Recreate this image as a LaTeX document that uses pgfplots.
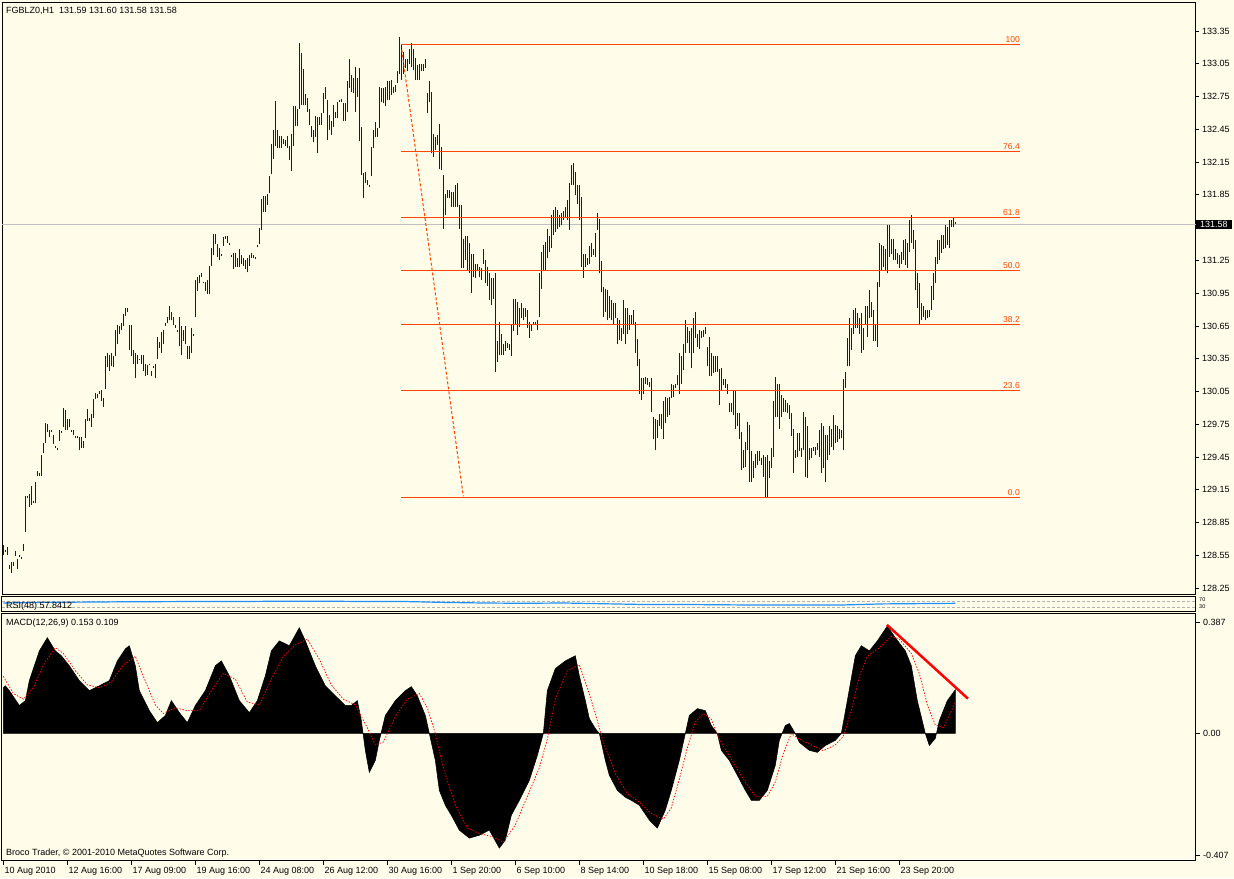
\documentclass[border=0pt]{standalone}
\usepackage{pgfplots}
\pgfplotsset{compat=1.18}
\usepackage{pgfplotstable}
\usepackage{fontspec}
\setmainfont{Liberation Sans}
\definecolor{bg}{RGB}{255,252,234}
\definecolor{barcol}{RGB}{22,32,32}
\definecolor{fib}{RGB}{255,69,0}
\definecolor{rsiblue}{RGB}{30,144,255}
\definecolor{lastline}{RGB}{192,192,192}

\pgfplotstableread{
i lo hi
0 128.55 128.64
1 128.58 128.60
2 128.55 128.63
3 128.42 128.46
4 128.39 128.49
5 128.45 128.49
6 128.54 128.59
7 128.42 128.52
8 128.53 128.55
9 128.52 128.53
10 128.59 128.65
11 128.76 129.09
12 129.07 129.09
13 128.99 129.11
14 129.01 129.18
15 129.03 129.05
16 129.03 129.22
17 129.28 129.32
18 129.28 129.30
19 129.28 129.47
20 129.49 129.58
21 129.58 129.76
22 129.68 129.75
23 129.63 129.70
24 129.68 129.70
25 129.57 129.65
26 129.53 129.55
27 129.51 129.53
28 129.60 129.70
29 129.67 129.69
30 129.72 129.90
31 129.70 129.88
32 129.70 129.80
33 129.72 129.80
34 129.68 129.70
35 129.65 129.70
36 129.62 129.64
37 129.62 129.64
38 129.51 129.63
39 129.53 129.63
40 129.53 129.60
41 129.62 129.80
42 129.78 129.89
43 129.78 129.81
44 129.72 129.84
45 129.81 129.98
46 129.98 130.04
47 129.99 130.03
48 130.03 130.05
49 129.96 130.06
50 129.91 129.99
51 130.07 130.37
52 130.27 130.40
53 130.24 130.38
54 130.28 130.40
55 130.27 130.37
56 130.37 130.61
57 130.48 130.66
58 130.58 130.65
59 130.61 130.68
60 130.65 130.76
61 130.74 130.81
62 130.78 130.81
63 130.43 130.66
64 130.37 130.66
65 130.30 130.43
66 130.17 130.40
67 130.30 130.38
68 130.34 130.35
69 130.30 130.38
70 130.24 130.38
71 130.19 130.30
72 130.20 130.29
73 130.29 130.30
74 130.19 130.24
75 130.26 130.28
76 130.17 130.30
77 130.35 130.55
78 130.45 130.50
79 130.40 130.59
80 130.48 130.61
81 130.65 130.68
82 130.68 130.73
83 130.70 130.83
84 130.70 130.78
85 130.66 130.73
86 130.63 130.66
87 130.59 130.61
88 130.47 130.73
89 130.38 130.65
90 130.51 130.61
91 130.48 130.65
92 130.35 130.47
93 130.35 130.47
94 130.40 130.63
95 130.56 130.58
96 130.73 131.07
97 130.97 131.10
98 131.04 131.12
99 131.10 131.13
100 131.04 131.05
101 130.97 131.05
102 130.94 131.07
103 130.94 131.20
104 131.20 131.36
105 131.30 131.49
106 131.40 131.49
107 131.28 131.40
108 131.25 131.36
109 131.29 131.31
110 131.38 131.46
111 131.45 131.47
112 131.41 131.47
113 131.39 131.41
114 131.28 131.30
115 131.17 131.32
116 131.19 131.32
117 131.19 131.27
118 131.19 131.35
119 131.22 131.30
120 131.20 131.27
121 131.17 131.25
122 131.14 131.27
123 131.20 131.30
124 131.27 131.32
125 131.27 131.30
126 131.26 131.28
127 131.37 131.39
128 131.40 131.55
129 131.53 131.81
130 131.69 131.84
131 131.69 131.84
132 131.76 131.86
133 131.87 132.02
134 132.04 132.32
135 132.18 132.44
136 132.30 132.71
137 132.28 132.44
138 132.28 132.39
139 132.28 132.39
140 132.32 132.36
141 132.30 132.35
142 132.28 132.39
143 132.17 132.30
144 132.07 132.41
145 132.30 132.66
146 132.48 132.66
147 132.48 132.64
148 132.64 133.24
149 132.67 133.15
150 132.67 133.00
151 132.67 132.77
152 132.61 132.74
153 132.49 132.64
154 132.38 132.48
155 132.33 132.44
156 132.38 132.57
157 132.23 132.56
158 132.49 132.56
159 132.49 132.60
160 132.60 132.78
161 132.73 132.84
162 132.35 132.72
163 132.44 132.58
164 132.40 132.53
165 132.47 132.67
166 132.55 132.61
167 132.55 132.70
168 132.70 132.72
169 132.70 132.73
170 132.53 132.69
171 132.53 132.69
172 132.61 132.89
173 132.83 133.09
174 132.79 132.95
175 132.78 132.92
176 132.61 133.02
177 132.75 132.92
178 132.34 133.01
179 132.03 132.47
180 131.82 132.05
181 131.96 132.06
182 131.94 131.99
183 131.92 131.94
184 132.02 132.29
185 132.28 132.44
186 132.38 132.52
187 132.38 132.46
188 132.46 132.84
189 132.70 132.83
190 132.69 132.83
191 132.66 132.84
192 132.72 132.89
193 132.72 132.89
194 132.76 132.90
195 132.78 132.84
196 132.79 132.86
197 132.87 132.98
198 132.96 133.30
199 132.90 133.22
200 132.96 133.16
201 133.01 133.09
202 132.98 133.09
203 133.05 133.19
204 133.02 133.24
205 132.99 133.19
206 132.90 133.10
207 132.90 133.04
208 132.90 133.05
209 132.98 133.05
210 132.98 133.05
211 133.01 133.09
212 132.60 132.78
213 132.70 132.89
214 132.23 132.79
215 132.20 132.41
216 132.26 132.38
217 132.31 132.40
218 132.09 132.50
219 132.08 132.29
220 131.54 132.03
221 131.67 131.86
222 131.82 131.89
223 131.82 131.89
224 131.74 131.88
225 131.74 131.88
226 131.74 131.94
227 131.74 131.96
228 131.54 131.76
229 131.18 131.76
230 131.18 131.45
231 131.25 131.47
232 131.16 131.47
233 131.13 131.41
234 130.95 131.31
235 131.10 131.31
236 131.09 131.22
237 131.15 131.22
238 131.10 131.19
239 131.07 131.18
240 131.22 131.35
241 131.04 131.25
242 131.02 131.19
243 130.89 131.13
244 130.84 131.09
245 130.90 131.09
246 130.23 131.13
247 130.32 130.51
248 130.38 130.69
249 130.38 130.58
250 130.38 130.48
251 130.42 130.51
252 130.45 130.49
253 130.43 130.48
254 130.37 130.67
255 130.60 130.90
256 130.67 130.90
257 130.57 130.87
258 130.64 130.81
259 130.72 130.86
260 130.70 130.81
261 130.73 130.81
262 130.63 130.80
263 130.54 130.69
264 130.60 130.67
265 130.66 130.69
266 130.67 130.69
267 130.61 130.70
268 130.73 131.13
269 130.99 131.33
270 131.15 131.39
271 131.15 131.42
272 131.27 131.54
273 131.33 131.47
274 131.36 131.67
275 131.48 131.71
276 131.51 131.74
277 131.54 131.71
278 131.56 131.67
279 131.57 131.68
280 131.62 131.70
281 131.65 131.74
282 131.62 131.80
283 131.53 131.96
284 131.94 132.12
285 131.94 132.14
286 131.85 132.06
287 131.77 131.94
288 131.62 131.94
289 131.19 131.83
290 131.09 131.31
291 131.19 131.31
292 131.21 131.27
293 131.22 131.38
294 131.28 131.41
295 131.30 131.35
296 131.28 131.50
297 131.53 131.68
298 131.13 131.63
299 130.96 131.24
300 130.73 131.01
301 130.78 130.99
302 130.70 130.98
303 130.72 130.92
304 130.70 130.89
305 130.66 130.86
306 130.72 130.86
307 130.48 130.72
308 130.52 130.70
309 130.51 130.63
310 130.58 130.89
311 130.48 130.81
312 130.58 130.81
313 130.61 130.75
314 130.66 130.75
315 130.66 130.80
316 130.40 130.69
317 130.28 130.53
318 130.03 130.35
319 129.97 130.17
320 130.03 130.17
321 130.12 130.18
322 130.11 130.17
323 130.09 130.14
324 129.86 130.17
325 129.61 129.82
326 129.51 129.80
327 129.62 129.79
328 129.73 129.84
329 129.71 129.84
330 129.61 129.96
331 129.76 130.00
332 129.82 129.99
333 129.83 130.00
334 129.99 130.12
335 130.00 130.11
336 130.08 130.12
337 130.11 130.20
338 130.03 130.40
339 130.12 130.37
340 130.25 130.48
341 130.40 130.70
342 130.49 130.64
343 130.40 130.60
344 130.26 130.63
345 130.40 130.72
346 130.54 130.78
347 130.46 130.58
348 130.44 130.61
349 130.54 130.60
350 130.55 130.61
351 130.58 130.64
352 130.28 130.46
353 130.19 130.55
354 130.19 130.40
355 130.22 130.37
356 130.23 130.37
357 130.23 130.37
358 129.93 130.26
359 130.06 130.26
360 130.11 130.16
361 130.08 130.16
362 130.03 130.12
363 129.86 129.94
364 129.86 129.94
365 129.83 130.06
366 129.71 130.06
367 129.73 129.85
368 129.61 129.85
369 129.33 129.68
370 129.35 129.51
371 129.36 129.59
372 129.51 129.77
373 129.22 129.74
374 129.22 129.50
375 129.26 129.41
376 129.35 129.48
377 129.38 129.50
378 129.41 129.50
379 129.38 129.44
380 129.27 129.47
381 129.07 129.45
382 129.07 129.47
383 129.26 129.41
384 129.35 129.53
385 129.45 129.96
386 129.82 130.18
387 129.82 130.12
388 129.71 130.12
389 129.82 130.02
390 129.86 129.99
391 129.86 129.97
392 129.85 129.94
393 129.80 129.93
394 129.64 129.85
395 129.30 129.71
396 129.44 129.51
397 129.45 129.67
398 129.50 129.67
399 129.45 129.53
400 129.51 129.86
401 129.27 129.82
402 129.26 129.73
403 129.42 129.53
404 129.44 129.53
405 129.50 129.54
406 129.47 129.54
407 129.51 129.58
408 129.45 129.70
409 129.30 129.76
410 129.35 129.73
411 129.22 129.65
412 129.42 129.65
413 129.47 129.73
414 129.54 129.71
415 129.51 129.83
416 129.58 129.74
417 129.59 129.73
418 129.61 129.71
419 129.62 129.70
420 129.51 130.16
421 130.08 130.23
422 130.28 130.54
423 130.28 130.72
424 130.43 130.63
425 130.58 130.80
426 130.63 130.81
427 130.63 130.77
428 130.58 130.72
429 130.40 130.77
430 130.43 130.63
431 130.66 130.83
432 130.55 130.83
433 130.72 130.98
434 130.73 130.87
435 130.51 130.80
436 130.51 130.66
437 130.46 131.05
438 131.01 131.41
439 131.15 131.39
440 131.19 131.38
441 131.15 131.35
442 131.13 131.57
443 131.28 131.57
444 131.31 131.45
445 131.25 131.45
446 131.25 131.35
447 131.22 131.32
448 131.18 131.30
449 131.22 131.33
450 131.25 131.44
451 131.21 131.45
452 131.18 131.41
453 131.33 131.62
454 131.41 131.67
455 131.35 131.53
456 130.98 131.44
457 130.81 131.13
458 130.67 131.04
459 130.70 130.86
460 130.73 130.83
461 130.70 130.80
462 130.72 130.80
463 130.73 130.80
464 130.80 131.02
465 130.89 131.13
466 131.04 131.28
467 131.22 131.44
468 131.25 131.44
469 131.32 131.48
470 131.35 131.48
471 131.36 131.57
472 131.39 131.56
473 131.36 131.62
474 131.56 131.62
475 131.56 131.65
476 131.58 131.60
}\price

\pgfplotstableread{
i v
0 0.160
1 0.167
3 0.150
8 0.098
11 0.115
13 0.185
18 0.289
22 0.335
26 0.289
29 0.272
33 0.237
38 0.185
43 0.150
48 0.167
53 0.185
57 0.254
61 0.296
63 0.307
66 0.237
68 0.150
73 0.080
77 0.038
81 0.063
84 0.115
88 0.073
92 0.038
96 0.098
101 0.150
106 0.237
109 0.254
113 0.202
118 0.115
123 0.073
127 0.115
131 0.202
134 0.289
138 0.324
143 0.307
148 0.370
151 0.324
156 0.237
161 0.167
166 0.132
171 0.098
174 0.098
177 0.115
179 0.045
181 -0.059
183 -0.136
186 -0.094
188 -0.024
191 0.063
196 0.115
201 0.150
204 0.164
207 0.132
211 0.063
213 0.000
216 -0.094
218 -0.199
221 -0.251
224 -0.286
228 -0.338
233 -0.366
238 -0.356
243 -0.338
248 -0.401
251 -0.373
254 -0.286
258 -0.234
263 -0.164
267 -0.077
270 0.000
272 0.150
276 0.227
281 0.254
286 0.272
288 0.202
291 0.115
293 0.052
296 0.017
298 0.000
301 -0.094
303 -0.146
307 -0.199
311 -0.223
314 -0.234
318 -0.251
323 -0.303
327 -0.331
331 -0.268
334 -0.199
338 -0.094
341 0.000
343 0.063
347 0.087
351 0.080
354 0.028
357 0.000
359 -0.059
363 -0.094
367 -0.146
371 -0.199
374 -0.234
378 -0.234
382 -0.199
386 -0.111
388 -0.024
391 0.028
393 0.035
396 0.000
398 -0.031
403 -0.059
407 -0.066
411 -0.042
416 -0.024
419 0.000
422 0.115
426 0.272
429 0.307
433 0.289
437 0.324
442 0.376
446 0.335
451 0.289
454 0.237
457 0.115
461 0.000
463 -0.042
466 -0.017
468 0.045
472 0.115
476 0.153
}\macd

\pgfplotstableread{
i v
0 0.20
5 0.14
10 0.12
15 0.16
20 0.24
26 0.30
30 0.28
36 0.22
42 0.17
48 0.16
54 0.18
60 0.24
66 0.27
70 0.20
76 0.10
80 0.07
86 0.09
92 0.08
98 0.08
104 0.15
110 0.21
116 0.19
122 0.11
128 0.10
134 0.19
140 0.27
146 0.31
152 0.33
158 0.26
164 0.17
170 0.12
176 0.10
182 0.02
186 -0.04
190 -0.03
196 0.06
202 0.12
208 0.14
212 0.09
216 0.00
220 -0.12
226 -0.25
232 -0.33
238 -0.35
244 -0.36
250 -0.38
256 -0.32
262 -0.22
268 -0.12
272 -0.02
276 0.12
282 0.22
288 0.24
292 0.16
296 0.07
300 -0.03
306 -0.14
312 -0.21
318 -0.24
324 -0.28
330 -0.30
334 -0.26
338 -0.16
342 -0.05
346 0.04
350 0.07
354 0.05
358 -0.02
364 -0.09
370 -0.16
376 -0.22
382 -0.22
386 -0.17
390 -0.07
394 0.00
398 -0.02
404 -0.04
410 -0.06
416 -0.04
420 -0.01
424 0.08
428 0.20
432 0.27
438 0.30
444 0.34
448 0.33
454 0.28
458 0.21
462 0.10
466 0.03
470 0.02
476 0.109
}\signal

\pgfplotstableread{
i v
0 60
20 64
40 66
60 68
80 69
100 70
120 70
140 72
160 72
180 70
200 70
220 64
240 60
260 58
280 60
300 55
320 50
340 50
360 48
380 46
400 46
420 47
440 54
460 56
476 57.84
}\rsi

\begin{document}
\fontsize{9}{10.5}\selectfont
\begin{tikzpicture}[x=1pt,y=1pt]
\fill[bg] (0,0) rectangle (1234,878);
\coordinate (mainNW) at (2,875);
\coordinate (rsiNW) at (2,281);
\coordinate (macdNW) at (2,264);
\pgfplotsset{every axis/.append style={
  scale only axis, width=1194pt, xmin=-0.67, xmax=596.33,
  axis line style={black, line width=1pt},
  tick style={black, line width=0.8pt},
  ticklabel style={font=\fontsize{9}{10.5}\selectfont, text=black},
  /pgf/number format/assume math mode=true,
  tick align=outside, major tick length=3pt,
  axis background/.style={fill=none}}}

% ---------------- main price window
\begin{axis}[at={(mainNW)}, anchor=north west, height=592pt,
  ymin=128.186, ymax=133.607, xtick=\empty,
  ytick={128.25,128.55,128.85,129.15,129.45,129.75,130.05,130.35,130.65,130.95,131.25,131.85,132.15,132.45,132.75,133.05,133.35},
  ytick pos=upper, yticklabel pos=upper,
  yticklabel style={/pgf/number format/.cd, fixed, fixed zerofill, precision=2},
  clip=false]
\addplot[draw=lastline, line width=1pt] coordinates {(-0.67,131.58) (596.33,131.58)};
\addplot[draw=none, mark=none, error bars/.cd, y dir=plus, y explicit, error mark=none,
  error bar style={draw=barcol, line width=1.1pt}]
  table[x=i, y=lo, y error expr=\thisrow{hi}-\thisrow{lo}] {\price};
\addplot[fib, line width=1pt] coordinates {(198.8,133.23) (508.3,133.23)};
\addplot[fib, line width=1pt] coordinates {(198.8,132.25) (508.3,132.25)};
\addplot[fib, line width=1pt] coordinates {(198.8,131.645) (508.3,131.645)};
\addplot[fib, line width=1pt] coordinates {(198.8,131.155) (508.3,131.155)};
\addplot[fib, line width=1pt] coordinates {(198.8,130.665) (508.3,130.665)};
\addplot[fib, line width=1pt] coordinates {(198.8,130.06) (508.3,130.06)};
\addplot[fib, line width=1pt] coordinates {(198.8,129.08) (508.3,129.08)};
\addplot[fib, line width=1pt, dash pattern=on 3pt off 2pt] coordinates {(199.2,133.18) (230.0,129.09)};
\foreach \lv/\p in {100/133.23, 76.4/132.25, 61.8/131.645, 50.0/131.155, 38.2/130.665, 23.6/130.06, 0.0/129.08}{
  \edef\tmp{\noexpand\node[anchor=south east, text=fib, inner xsep=0pt, inner ysep=1.5pt, font=\noexpand\fontsize{8.5}{9}\noexpand\selectfont] at (axis cs:508.3,\p) {\lv};}\tmp
}
\node[fill=black, text=white, anchor=west, inner xsep=4pt, inner ysep=1.5pt] at (axis cs:596.33,131.58) {131.58};
\end{axis}

% ---------------- RSI window
\begin{axis}[at={(rsiNW)}, anchor=north west, height=15pt,
  ymin=0, ymax=100, xtick=\empty, ytick=\empty]
\addplot[draw=gray!60, dash pattern=on 3pt off 2pt, line width=0.8pt] coordinates {(-0.67,70) (596.33,70)};
\addplot[draw=gray!60, dash pattern=on 3pt off 2pt, line width=0.8pt] coordinates {(-0.67,30) (596.33,30)};
\addplot[draw=rsiblue, line width=1.2pt] table[x=i, y=v] {\rsi};
\end{axis}

% ---------------- MACD window
\begin{axis}[at={(macdNW)}, anchor=north west, height=247pt,
  ymin=-0.446, ymax=0.418,
  xtick={0,32,...,448},
  xticklabels={10 Aug 2010, 12 Aug 16:00, 17 Aug 09:00, 19 Aug 16:00, 24 Aug 08:00, 26 Aug 12:00, 30 Aug 16:00, 1 Sep 20:00, 6 Sep 10:00, 8 Sep 14:00, 10 Sep 18:00, 15 Sep 08:00, 17 Sep 12:00, 21 Sep 16:00, 23 Sep 20:00},
  xtick pos=lower, major tick length=4pt,
  xticklabel style={anchor=north west, inner sep=0pt, xshift=1pt, yshift=-2pt},
  ytick={0,0.387}, yticklabels={0.00,0.387},
  extra y ticks={-0.428}, extra y tick labels={-0.407},
  ytick pos=upper, yticklabel pos=upper,
  clip=true]
\addplot[fill=black, draw=black, line width=0.5pt] table[x=i, y=v] {\macd} \closedcycle;
\addplot[draw=red, line width=0.7pt, dash pattern=on 1.5pt off 1.5pt] table[x=i, y=v] {\signal};
\addplot[draw=red, line width=2.5pt] coordinates {(441.8,0.380) (482.3,0.122)};
\end{axis}

\node[anchor=west, inner sep=0pt] at (6,867) {FGBLZ0,H1\ \ 131.59 131.60 131.58 131.58};
\node[anchor=west, inner sep=0pt] at (6,272) {RSI(48) 57.8412};
\node[anchor=west, inner sep=0pt] at (6,255) {MACD(12,26,9) 0.153 0.109};
\node[anchor=west, inner sep=0pt] at (6,25) {Broco Trader, \textcopyright{} 2001-2010 MetaQuotes Software Corp.};
\node[anchor=west, inner sep=0pt, font=\fontsize{5.5}{6}\selectfont] at (1199,278.5) {70};
\node[anchor=west, inner sep=0pt, font=\fontsize{5.5}{6}\selectfont] at (1199,271.5) {30};
\end{tikzpicture}
\end{document}
